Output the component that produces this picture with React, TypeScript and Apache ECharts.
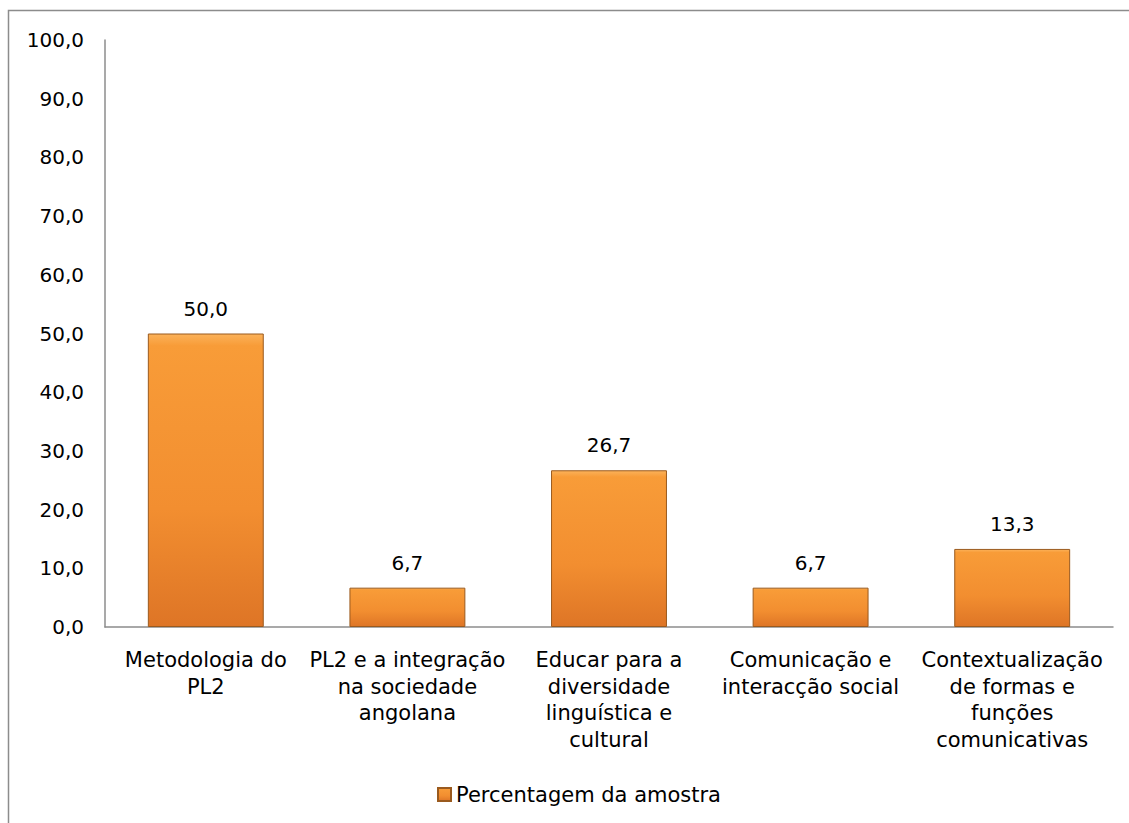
import React, { useEffect, useRef } from "react";
import * as echarts from "echarts";

const categories = [
  "Metodologia do\nPL2",
  "PL2 e a integração\nna sociedade\nangolana",
  "Educar para a\ndiversidade\nlinguística e\ncultural",
  "Comunicação e\ninteracção social",
  "Contextualização\nde formas e\nfunções\ncomunicativas",
];
const values = [50.0, 6.7, 26.7, 6.7, 13.3];
const seriesName = "Percentagem da amostra";
const yMin = 0;
const yMax = 100;
const yInterval = 10;

const fmt = (v: number) => v.toFixed(1).replace(".", ",");
const FONT = "DejaVu Sans";

export default function App() {
  const ref = useRef<HTMLDivElement>(null);
  useEffect(() => {
    if (!ref.current) return;
    const chart = echarts.init(ref.current, undefined, { renderer: "svg" });
    const barColor = new echarts.graphic.LinearGradient(0, 0, 0, 1, [
      { offset: 0, color: "#FBB25A" },
      { offset: 0.04, color: "#F89C38" },
      { offset: 0.6, color: "#F28E30" },
      { offset: 1, color: "#DE7526" },
    ]);
    chart.setOption({
      animation: false,
      backgroundColor: "#ffffff",
      textStyle: { fontFamily: FONT, color: "#000" },
      graphic: [
        {
          type: "rect",
          shape: { x: 8.5, y: 10.5, width: 1200, height: 1000 },
          style: { fill: "none", stroke: "#8c8c8c", lineWidth: 1.5 },
          silent: true,
        },
      ],
      grid: { left: 105, right: 16, top: 40, bottom: 196, containLabel: false },
      legend: {
        bottom: 13,
        left: 432,
        itemWidth: 13,
        itemHeight: 13,
        itemGap: 4,
        textStyle: { fontFamily: FONT, fontSize: 21, color: "#000" },
        icon: "rect",
        data: [seriesName],
      },
      xAxis: {
        type: "category",
        data: categories,
        axisLine: { lineStyle: { color: "#8c8c8c", width: 1.5 } },
        axisTick: { show: false },
        axisLabel: {
          interval: 0,
          margin: 20,
          fontFamily: FONT,
          fontSize: 21,
          color: "#000",
          lineHeight: 26.5,
          align: "center",
        },
      },
      yAxis: {
        type: "value",
        min: yMin,
        max: yMax,
        interval: yInterval,
        splitLine: { show: false },
        axisLine: { show: true, lineStyle: { color: "#8c8c8c", width: 1.5 } },
        axisTick: { show: false },
        axisLabel: {
          margin: 21,
          fontFamily: FONT,
          fontSize: 20,
          color: "#000",
          formatter: (v: number) => fmt(v),
        },
      },
      series: [
        {
          name: seriesName,
          type: "bar",
          data: values,
          barWidth: "57.5%",
          itemStyle: {
            color: barColor,
            borderColor: "#9A5A1E",
            borderWidth: 1,
          },
          label: {
            show: true,
            position: "top",
            distance: 15,
            fontFamily: FONT,
            fontSize: 20,
            color: "#000",
            formatter: (p: any) => fmt(p.value),
          },
        },
      ],
    });
    return () => chart.dispose();
  }, []);
  return (
    <div
      ref={ref}
      style={{ position: "absolute", left: 0, top: 0, width: 1129, height: 823 }}
    />
  );
}
